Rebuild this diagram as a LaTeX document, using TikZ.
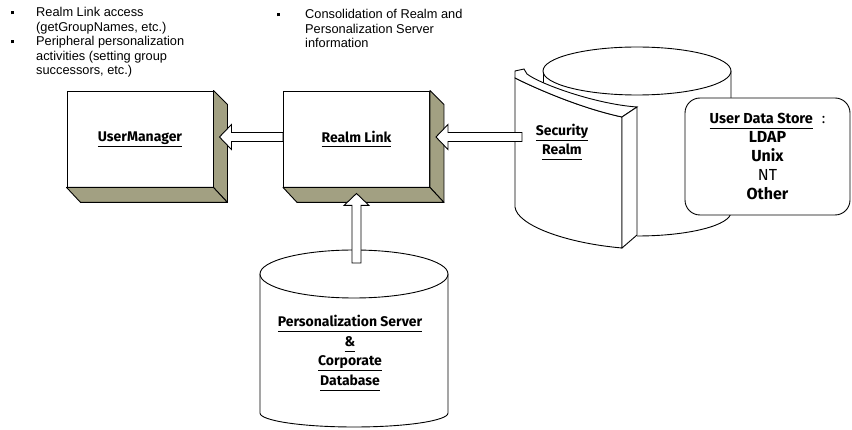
\documentclass[tikz,border=0pt]{standalone}
\usepackage{fontspec}
\setmainfont{Liberation Sans}
\newfontfamily\labelfont{Fira Sans}
\usetikzlibrary{calc}
\definecolor{boxside}{RGB}{162,160,130}
\newcommand{\lbl}[1]{\underline{#1\vphantom{g}}}
\newcommand{\bul}{\rule[2.5pt]{3.2pt}{3.2pt}}
\newcommand{\storesize}{\fontsize{16}{19}\selectfont}
% shaded depth faces of a box node
\newcommand{\boxfaces}[1]{%
  \filldraw[boxface] (#1.north east) -- ++(14,14) -- ($(#1.south east)+(14,15)$) -- (#1.south east) -- cycle;
  \filldraw[boxface] (#1.south west) -- ++(14,15) -- ($(#1.south east)+(14,15)$) -- (#1.south east) -- cycle;}
% white block arrow from #1 to #2
\newcommand{\hollowarrow}[2]{%
  \draw[hollow] ($(#1)!4.5pt!-90:(#2)$) -- ($(#2)!12pt!(#1)!4.5pt!90:(#1)$)
    -- ($(#2)!12pt!(#1)!12.5pt!90:(#1)$) -- (#2) -- ($(#2)!12pt!(#1)!12.5pt!-90:(#1)$)
    -- ($(#2)!12pt!(#1)!4.5pt!-90:(#1)$) -- ($(#1)!4.5pt!90:(#2)$) -- cycle;}
\tikzset{
  solidbox/.style={draw, fill=white, line width=0.9pt, minimum width=146pt, minimum height=96pt,
    inner sep=0pt, font=\labelfont\bfseries\fontsize{14}{17}\selectfont},
  boxface/.style={draw, fill=boxside, line width=0.9pt, line join=round},
  hollow/.style={draw, fill=white, line width=0.9pt},
  drum/.style={draw, fill=white, line width=0.9pt},
  drumtext/.style={align=center, inner sep=0pt, font=\labelfont\bfseries\fontsize{14}{19.5}\selectfont},
  datastore/.style={draw, fill=white, line width=0.9pt, rounded corners=15pt, minimum width=165pt,
    minimum height=117pt, align=center, font=\labelfont\bfseries\fontsize{14.5}{19}\selectfont},
  note/.style={inner sep=0pt, font=\fontsize{12.8}{14.5}\selectfont},
}
\begin{document}
\begin{tikzpicture}[x=1pt, y=-1pt]
  \useasboundingbox (0,0) rectangle (852,430);
  \node[note, anchor=base west] (umnote) at (11,17) {\begin{tabular}[t]{@{}p{25pt}@{}l@{}}
    \bul & Realm Link access\\ & (getGroupNames, etc.)\\
    \bul & Peripheral personalization\\ & activities (setting group\\ & successors, etc.)\end{tabular}};
  \node[note, anchor=base west] (rlnote) at (277,19) {\begin{tabular}[t]{@{}p{28pt}@{}l@{}}
    \bul & Consolidation of Realm and\\ & Personalization Server\\ & information\end{tabular}};

  \node[solidbox] (um) at (140,139) {\lbl{UserManager}};
  \node[solidbox] (rl) at (356.5,139) {\lbl{Realm Link}};
  \boxfaces{um}
  \boxfaces{rl}

  % security realm
  \draw[drum] (543,71) -- (543,150);
  \draw[drum] (731,71) -- (731,212) arc[start angle=0, end angle=90, x radius=94, y radius=24];
  \draw[drum] (637,71) ellipse[x radius=94, y radius=24];
  \filldraw[drum] (515,78) .. controls (535,88) and (580,108) .. (622,117) -- (622,248)
    .. controls (565,243) and (517,225) .. (515,207) -- cycle;
  \filldraw[drum] (515,78) -- (515,71) -- (524,69) -- (527,74) .. controls (540,84) and (595,104) .. (637,107)
    -- (622,117) .. controls (580,108) and (535,88) .. (515,78) -- cycle;
  \filldraw[drum] (622,117) -- (637,107) -- (637,235) -- (622,248) -- cycle;
  \node[drumtext] (sr) at (562,142) {\lbl{Security}\\\lbl{Realm}};
  \coordinate (srin) at (522,137);

  \node[datastore] (uds) at (767.5,156.5) {\lbl{User Data Store}\hspace{9pt}{\mdseries:}\\
    {\storesize LDAP}\\ {\storesize Unix}\\ {\storesize\mdseries NT}\\ {\storesize Other}};

  % personalization database
  \draw[drum] (260,274) -- (260,413) arc[start angle=180, end angle=0, x radius=94, y radius=14] -- (448,274);
  \draw[drum] (354,274) ellipse[x radius=94, y radius=24];
  \node[drumtext] (pdb) at (350,353) {\lbl{Personalization Server}\\\lbl{\&}\\\lbl{Corporate}\\\lbl{Database}};
  \coordinate (pdbin) at (356.5,263);

  \coordinate (umtip) at ($(um.east)+(6,-2)$);
  \coordinate (rlout) at ($(rl.west)+(0,-2)$);
  \coordinate (rltip) at ($(rl.east)+(6,-2)$);
  \coordinate (rlbase) at ($(rl.south)+(0,6)$);
  \hollowarrow{rlout}{umtip}
  \hollowarrow{srin}{rltip}
  \hollowarrow{pdbin}{rlbase}
\end{tikzpicture}
\end{document}
